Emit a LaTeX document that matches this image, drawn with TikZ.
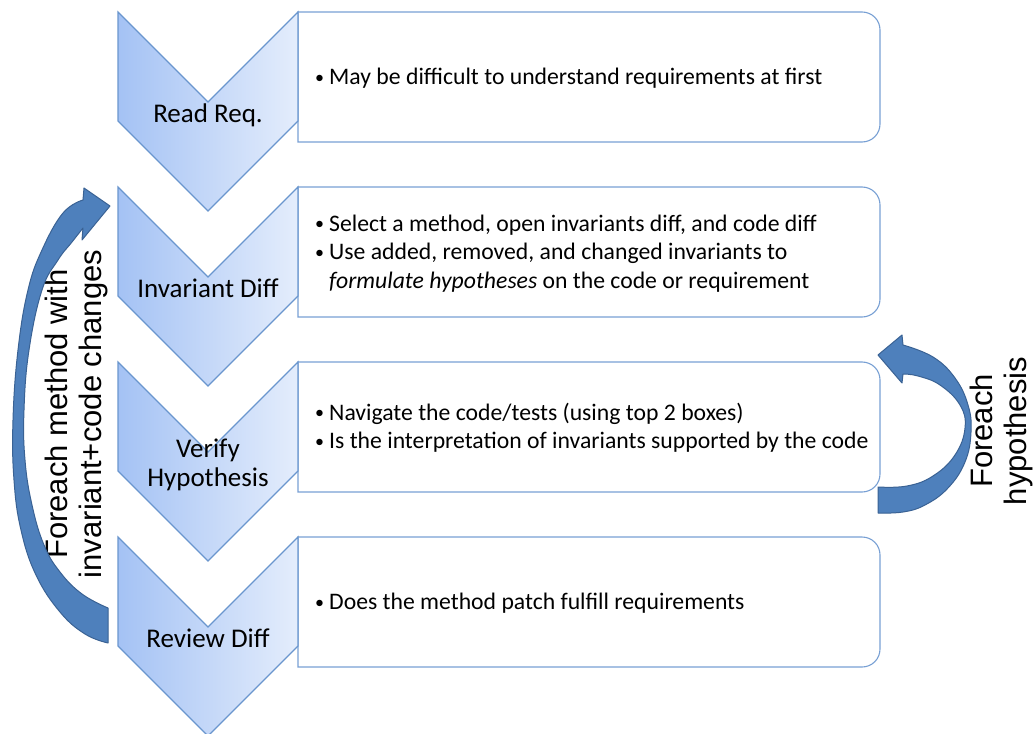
\documentclass[tikz,border=0pt]{standalone}
\usepackage{fontspec}
\setmainfont{Carlito}
\newfontfamily\arialf{Liberation Sans}
\definecolor{chevL}{RGB}{164,194,244}
\definecolor{chevR}{RGB}{228,237,252}
\definecolor{chevB}{RGB}{106,150,206}
\definecolor{boxB}{RGB}{120,160,212}
\definecolor{arrF}{RGB}{78,128,188}
\definecolor{arrB}{RGB}{58,98,148}
\newcommand\bs{\rule[-6.75pt]{0pt}{28.5pt}}
\newcommand\ls{\rule[-6pt]{0pt}{29pt}}
\newcommand\bl{\makebox[14pt][l]{\raisebox{1.3pt}{\fontsize{18}{18}\selectfont\textbullet}}}
\begin{document}
\begin{tikzpicture}[x=1pt,y=-1pt,
  chev/.style={left color=chevL, right color=chevR, draw=chevB, line width=1.1pt, line join=miter},
  boxst/.style={fill=white, draw=boxB, line width=1.1pt},
  lbl/.style={font=\fontsize{27}{29}\selectfont, align=center, inner sep=0pt, text=black},
  btxt/.style={font=\fontsize{23.7}{28.5}\selectfont, align=left, inner sep=0pt, anchor=west, text=black},
  rtxt/.style={font=\arialf\fontsize{31}{34}\selectfont, align=center, inner sep=0pt, rotate=90, text=black},
  barrow/.style={fill=arrF, draw=arrB, line width=1pt, line join=round}]
\useasboundingbox (0,0) rectangle (1035,733);
\fill[white] (0,0) rectangle (1035,733);
% boxes and chevrons
\foreach \t in {12,187,362,537}{
  \draw[boxst] (298,\t) -- (862,\t) .. controls (872,\t) and (880,{\t+8}) .. (880,{\t+18})
     -- (880,{\t+112}) .. controls (880,{\t+122}) and (872,{\t+130}) .. (862,{\t+130})
     -- (298,{\t+130}) -- cycle;
  \path[chev] (118,\t) -- (208,{\t+90}) -- (298,\t) -- (298,{\t+109}) -- (208,{\t+199}) -- (118,{\t+109}) -- cycle;
}
% chevron labels
\node[lbl] (c1) at (208,113.5) {\ls Read Req.};
\node[lbl] (c2) at (208,288.5) {\ls Invariant Diff};
\node[lbl] (c3) at (208,463.5) {\ls Verify\\\ls Hypothesis};
\node[lbl] (c4) at (208,638.5) {\ls Review Diff};
% box texts
\node[btxt] (t1) at (315,77) {\bs\bl May be difficult to understand requirements at first};
\node[btxt] (t2) at (315,252) {\bs\bl Select a method, open invariants diff, and code diff\\
  \bs\bl Use added, removed, and changed invariants to\\
  \bs\hspace*{14pt}\textit{formulate hypotheses} on the code or requirement};
\node[btxt] (t3) at (315,427) {\bs\bl Navigate the code/tests (using top 2 boxes)\\
  \bs\bl Is the interpretation of invariants supported by the code};
\node[btxt] (t4) at (315,602) {\bs\bl Does the method patch fulfill requirements};
% rotated labels
\node[rtxt] (fl) at (76,414) {Foreach method with\\invariant+code changes};
\node[rtxt] (fr) at (1001,431) {Foreach\\hypothesis};
% left curved arrow
\path[barrow] (110,206) -- (84,188) -- (83,200)
  -- plot[smooth, tension=0.7] coordinates {(83,200) (63,213) (42,250) (28,290) (18,350) (13,420) (14,480) (21,530) (36,575) (60,612) (85,634) (108,643)}
  -- (108,608)
  -- plot[smooth, tension=0.7] coordinates {(108,608) (82,594) (60,572) (44,545) (32,505) (25,460) (24,410) (29,350) (42,290) (58,260) (72,242) (83,228)}
  -- (82,240) -- cycle;
% right curved arrow
\path[barrow] (878,355) -- (902,335) -- (903,345)
  -- plot[smooth, tension=0.7] coordinates {(903,345) (933,357) (955,378) (968,405) (971,432) (965,462) (948,488) (925,505) (903,512) (878,513)}
  -- (878,487)
  -- plot[smooth, tension=0.7] coordinates {(878,487) (907,486) (933,476) (955,455) (965,428) (960,405) (940,385) (918,376) (903,374)}
  -- (902,383) -- cycle;
\end{tikzpicture}
\end{document}
